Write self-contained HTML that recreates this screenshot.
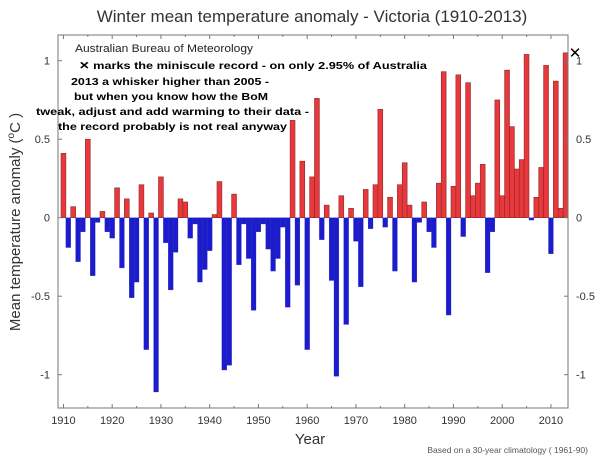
<!DOCTYPE html>
<html><head><meta charset="utf-8"><style>
body{margin:0;background:#fff;width:600px;height:457px;overflow:hidden;font-family:"Liberation Sans",sans-serif}
svg text{font-family:"Liberation Sans",sans-serif}
</style></head><body>
<svg id="chart" width="600" height="457" viewBox="0 0 600 457">
<text x="312" y="22" text-anchor="middle" font-size="17" fill="#333">Winter mean temperature anomaly - Victoria (1910-2013)</text>
<g id="bars"></g>
<g id="axes"></g>
<rect x="58" y="35" width="510" height="373" fill="none" stroke="#777" stroke-width="1"/>
<text x="75" y="52" font-size="11" fill="#222" textLength="178" lengthAdjust="spacingAndGlyphs">Australian Bureau of Meteorology</text>
<g font-size="10.5" font-weight="bold" fill="#000">
<text x="79" y="69" textLength="348" lengthAdjust="spacingAndGlyphs">✕ marks the miniscule record - on only 2.95% of Australia</text>
<text x="71" y="85" textLength="198" lengthAdjust="spacingAndGlyphs">2013 a whisker higher than 2005 -</text>
<text x="74" y="100" textLength="194" lengthAdjust="spacingAndGlyphs">but when you know how the BoM</text>
<text x="36" y="115" textLength="273" lengthAdjust="spacingAndGlyphs">tweak, adjust and add warming to their data -</text>
<text x="58" y="130" textLength="229" lengthAdjust="spacingAndGlyphs">the record probably is not real anyway</text>
</g>
<text x="575" y="58" font-size="15" text-anchor="middle" fill="#000">✕</text>
<text transform="translate(20,222) rotate(-90)" text-anchor="middle" font-size="15" fill="#333">Mean temperature anomaly (<tspan font-size="10" dy="-6">o</tspan><tspan dy="6">C )</tspan></text>
<text x="310" y="444" text-anchor="middle" font-size="15" fill="#333">Year</text>
<text x="588" y="453" text-anchor="end" font-size="8.5" fill="#555">Based on a 30-year climatology ( 1961-90)</text>
</svg>
<script>
const years = [];
for (let y = 1910; y <= 2013; y++) years.push(y);
const anomalies = [0.41,-0.19,0.07,-0.28,-0.09,0.50,-0.37,-0.03,0.04,-0.09,
-0.13,0.19,-0.32,0.12,-0.51,-0.41,0.21,-0.84,0.03,-1.11,
0.26,-0.16,-0.46,-0.22,0.12,0.10,-0.13,-0.04,-0.41,-0.33,
-0.21,0.02,0.23,-0.97,-0.94,0.15,-0.30,-0.04,-0.26,-0.59,
-0.09,-0.04,-0.20,-0.34,-0.26,-0.06,-0.57,0.62,-0.43,0.36,
-0.84,0.26,0.76,-0.14,0.08,-0.40,-1.01,0.14,-0.68,0.06,
-0.15,-0.44,0.18,-0.07,0.21,0.69,-0.06,0.13,-0.34,0.21,
0.35,0.08,-0.41,-0.03,0.10,-0.09,-0.19,0.22,0.93,-0.62,
0.20,0.91,-0.12,0.86,0.14,0.22,0.34,-0.35,-0.09,0.75,
0.14,0.94,0.58,0.31,0.37,1.04,-0.015,0.13,0.32,0.97,
-0.23,0.87,0.06,1.05];
const yTicks = [1, 0.5, 0, -0.5, -1];
const yTickLabels = ["1","0.5","0","-0.5","-1"];
const xTicks = [1910,1920,1930,1940,1950,1960,1970,1980,1990,2000,2010];

const NS = "http://www.w3.org/2000/svg";
const bw = 4.875, x0 = 61;
const xLeft = yr => x0 + (yr - 1910) * bw;
const xCenter = yr => xLeft(yr) + bw / 2;
const yScale = v => 217.7 - v * 157;

const bars = document.getElementById('bars');
years.forEach((yr, i) => {
  const v = anomalies[i];
  const r = document.createElementNS(NS, 'rect');
  const top = Math.min(yScale(v), yScale(0));
  r.setAttribute('x', xLeft(yr));
  r.setAttribute('y', top);
  r.setAttribute('width', bw);
  r.setAttribute('height', Math.abs(yScale(v) - yScale(0)));
  if (v >= 0) { r.setAttribute('fill', '#e8383b'); r.setAttribute('stroke', '#8a2a2a'); r.setAttribute('stroke-width', '0.6'); }
  else { r.setAttribute('fill', '#1c1ccf'); r.setAttribute('stroke', '#3030a0'); r.setAttribute('stroke-width', '0.3'); }
  
  
  bars.appendChild(r);
});

const axes = document.getElementById('axes');
function line(x1, y1, x2, y2) {
  const l = document.createElementNS(NS, 'line');
  l.setAttribute('x1', x1); l.setAttribute('y1', y1); l.setAttribute('x2', x2); l.setAttribute('y2', y2);
  l.setAttribute('stroke', '#777'); l.setAttribute('stroke-width', '1');
  axes.appendChild(l);
}
function text(x, y, s, anchor, name) {
  const t = document.createElementNS(NS, 'text');
  t.setAttribute('x', x); t.setAttribute('y', y); t.setAttribute('text-anchor', anchor);
  t.setAttribute('font-size', '11'); t.setAttribute('fill', '#333');
  t.textContent = s;
  
  
  axes.appendChild(t);
}
yTicks.forEach((v, i) => {
  const y = yScale(v);
  line(58, y, 62, y); line(564, y, 568, y);
  text(50, y + 4, yTickLabels[i], 'end', 'y-tick-left');
  text(576, y + 4, yTickLabels[i], 'start', 'y-tick-right');
});
for (let yr = 1910; yr <= 2010; yr += 5) {
  const x = xCenter(yr);
  const len = yr % 10 === 0 ? 4 : 2;
  line(x, 408, x, 408 - len); line(x, 35, x, 35 + len);
}
xTicks.forEach(yr => text(xCenter(yr), 424, String(yr), 'middle', 'x-tick-label'));
</script>
</body></html>
